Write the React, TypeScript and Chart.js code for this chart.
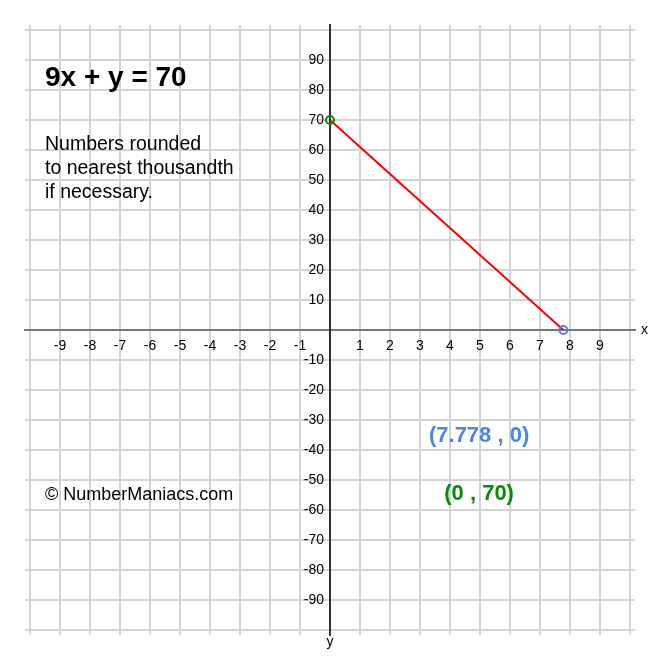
import { useEffect, useRef } from 'react';
import { Chart, registerables } from 'chart.js';

Chart.register(...registerables);

// the line 9x + y = 70, drawn between its two intercepts
const lineX = [0, 7.778];
const lineY = [70, 0];
const pointColors = ['#0a8a0a', '#4a86e8'];

// grid lines and the tick labels printed beside the axes
const xGrid = [-10, -9, -8, -7, -6, -5, -4, -3, -2, -1, 0, 1, 2, 3, 4, 5, 6, 7, 8, 9, 10];
const yGrid = [-100, -90, -80, -70, -60, -50, -40, -30, -20, -10, 0, 10, 20, 30, 40, 50, 60, 70, 80, 90, 100];
const xTickLabels = [-9, -8, -7, -6, -5, -4, -3, -2, -1, 1, 2, 3, 4, 5, 6, 7, 8, 9];
const yTickLabels = [90, 80, 70, 60, 50, 40, 30, 20, 10, -10, -20, -30, -40, -50, -60, -70, -80, -90];

const title = '9x + y = 70';
const noteLines = ['Numbers rounded', 'to nearest thousandth', 'if necessary.'];
const credit = '\u00A9 NumberManiacs.com';

const FONT = 'Arial, "Liberation Sans", Helvetica, sans-serif';

// grid lines stick out 5px past the outer ones (30px per unit)
const xEdge = 5 / 30;
const yEdge = 50 / 30;

const textPlugin = {
    id: 'textOverlay',
    afterDraw(chart: Chart) {
        const { ctx, scales } = chart;
        const sx = scales.x;
        const sy = scales.y;
        const x0 = sx.getPixelForValue(0);
        ctx.save();
        ctx.fillStyle = '#000';

        // y tick labels, right aligned just left of the y axis
        ctx.font = `14px ${FONT}`;
        ctx.textAlign = 'right';
        ctx.textBaseline = 'middle';
        yTickLabels.forEach((v) => ctx.fillText(String(v), x0 - 6, sy.getPixelForValue(v)));

        ctx.textBaseline = 'alphabetic';
        ctx.textAlign = 'left';
        const left = sx.getPixelForValue(-9.5);
        ctx.font = `bold 28px ${FONT}`;
        ctx.fillText(title, left, 86);

        ctx.font = `19.5px ${FONT}`;
        noteLines.forEach((t, i) => ctx.fillText(t, left, 150 + i * 24.2));

        ctx.font = `18px ${FONT}`;
        ctx.fillText(credit, left, 500);

        // axis names
        ctx.font = `14px ${FONT}`;
        ctx.textBaseline = 'middle';
        ctx.fillText('x', chart.chartArea.right + 6, sy.getPixelForValue(0));
        ctx.textAlign = 'center';
        ctx.fillText('y', x0, chart.chartArea.bottom + 7);

        // intercept labels
        ctx.font = `bold 22px ${FONT}`;
        ctx.textBaseline = 'alphabetic';
        ctx.fillStyle = pointColors[1];
        ctx.fillText(`(${lineX[1]} , ${lineY[1]})`, sx.getPixelForValue(4.97), 442);
        ctx.fillStyle = pointColors[0];
        ctx.fillText(`(${lineX[0]} , ${lineY[0]})`, sx.getPixelForValue(4.97), 500);
        ctx.restore();
    },
};

export default function App() {
    const canvasRef = useRef<HTMLCanvasElement | null>(null);

    useEffect(() => {
        if (!canvasRef.current) return;
        const chart = new Chart(canvasRef.current, {
            type: 'scatter',
            data: {
                datasets: [
                    {
                        data: lineX.map((x, i) => ({ x, y: lineY[i] })),
                        showLine: true,
                        borderColor: '#ff0000',
                        borderWidth: 2,
                        pointRadius: 4,
                        pointBorderWidth: 2,
                        pointBorderColor: pointColors,
                        pointBackgroundColor: 'rgba(0,0,0,0)',
                    },
                ],
            },
            options: {
                animation: false,
                responsive: true,
                maintainAspectRatio: false,
                layout: { padding: 25 },
                plugins: {
                    legend: { display: false },
                    tooltip: { enabled: false },
                },
                scales: {
                    x: {
                        type: 'linear',
                        min: -10 - xEdge,
                        max: 10 + xEdge,
                        position: { y: 0 },
                        afterBuildTicks: (scale) => {
                            scale.ticks = xGrid.map((value) => ({ value }));
                        },
                        ticks: {
                            autoSkip: false,
                            maxRotation: 0,
                            padding: 8,
                            color: '#000',
                            font: { family: FONT, size: 14 },
                            callback: (v) => (xTickLabels.includes(Number(v)) ? String(v) : ''),
                        },
                        grid: { color: '#d4d4d4', lineWidth: 2, drawTicks: false },
                        border: { color: '#777', width: 2 },
                    },
                    y: {
                        type: 'linear',
                        min: -100 - yEdge,
                        max: 100 + yEdge,
                        position: { x: 0 },
                        afterBuildTicks: (scale) => {
                            scale.ticks = yGrid.map((value) => ({ value }));
                        },
                        ticks: { display: false },
                        grid: { color: '#d4d4d4', lineWidth: 2, drawTicks: false },
                        border: { color: '#333', width: 2 },
                    },
                },
            },
            plugins: [textPlugin],
        });
        return () => chart.destroy();
    }, []);

    return (
        <div style={{ position: 'absolute', left: 0, top: 0, width: 660, height: 660, background: '#fff' }}>
            <canvas ref={canvasRef}></canvas>
        </div>
    );
}
